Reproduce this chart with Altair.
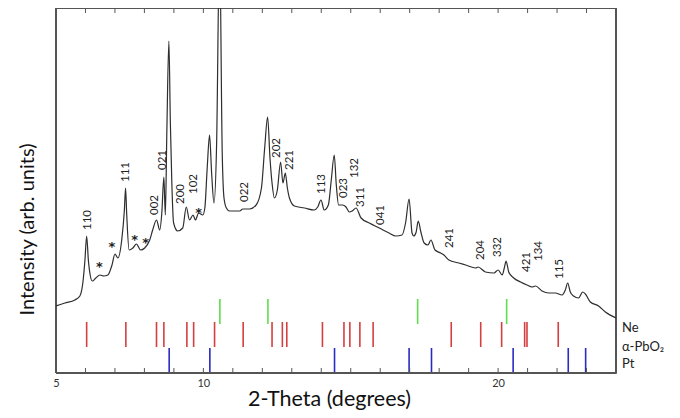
import altair as alt
import pandas as pd

# ---- measured pattern (2-theta in degrees, intensity in arb. units) ----
two_theta = [5.00, 5.30, 5.64, 5.81, 5.91, 5.98, 6.04, 6.10, 6.16, 6.23, 6.35, 6.49, 6.62, 6.76, 6.90,
             7.00, 7.10, 7.23, 7.32, 7.36, 7.40, 7.48, 7.61, 7.73, 7.87, 8.01, 8.18, 8.28, 8.41, 8.52,
             8.59, 8.66, 8.71, 8.76, 8.83, 8.88, 8.93, 8.99, 9.13, 9.30, 9.42, 9.53, 9.65, 9.73, 9.84,
             9.98, 10.05, 10.13, 10.21, 10.28, 10.36, 10.45, 10.55, 10.64, 10.70, 10.78, 10.89, 11.23,
             11.34, 11.57, 11.79, 11.97, 12.08, 12.18, 12.26, 12.33, 12.41, 12.51, 12.62, 12.70, 12.78,
             12.85, 12.92, 13.09, 13.43, 13.76, 13.88, 13.99, 14.10, 14.24, 14.34, 14.44, 14.51, 14.59,
             14.72, 14.84, 14.95, 15.05, 15.18, 15.35, 15.63, 15.97, 16.30, 16.53, 16.74, 16.86, 16.98,
             17.08, 17.14, 17.22, 17.29, 17.38, 17.49, 17.62, 17.72, 17.86, 18.05, 18.16, 18.33, 18.67,
             18.90, 19.24, 19.32, 19.57, 19.86, 20.00, 20.14, 20.21, 20.27, 20.36, 20.53, 20.76, 20.98,
             21.15, 21.27, 21.49, 21.72, 21.94, 22.17, 22.28, 22.36, 22.45, 22.56, 22.73, 22.87, 22.96,
             23.13, 23.41, 23.64, 24.00]
intensity = [67, 70, 73, 77, 90, 112, 137, 112, 98, 92, 95, 98, 97, 98, 108,
             119, 115, 133, 163, 185, 158, 123, 125, 129, 123, 125, 133, 143, 153, 143,
             160, 196, 158, 240, 332, 250, 190, 150, 142, 145, 166, 153, 158, 153, 160,
             158, 165, 205, 238, 200, 170, 230, 430, 220, 175, 165, 162, 162,
             164, 164, 168, 185, 225, 256, 215, 190, 175, 183, 211, 190, 200,
             185, 175, 167, 165, 163, 166, 173, 163, 168, 193, 218, 188, 168,
             168, 166, 161, 162, 165, 155, 150, 145, 140, 137, 138, 150, 174,
             140, 137, 141, 152, 141, 130, 128, 133, 123, 120, 118, 113, 110,
             108, 105, 106, 101, 100, 103, 98, 105, 112, 101, 95, 91, 88,
             86, 87, 82, 80, 80, 78, 83, 90, 81, 77, 75, 81, 79,
             71, 67, 61, 55]

# ---- hkl labels of alpha-PbO2 ----
hkl_text = ["110", "111", "002", "021", "200", "102", "022", "202", "221", "113",
            "023", "132", "311", "041", "241", "204", "332", "421", "134", "115"]
hkl_tt = [6.07, 7.39, 8.35, 8.63, 9.25, 9.68, 11.40, 12.51, 12.95, 14.04,
          14.76, 15.16, 15.35, 16.02, 18.37, 19.43, 20.00, 20.98, 21.38, 22.11]
hkl_I = [153, 201, 168, 213, 179, 189, 181, 225, 213, 189,
         185, 205, 176, 158, 135, 123, 126, 111, 122, 104]

# ---- unidentified peaks (*) ----
star_tt = [6.47, 6.90, 7.67, 8.04, 9.84]
star_I = [106, 126, 133, 130, 160]

# ---- reference stick positions ----
ne_tt = [10.56, 12.19, 17.27, 20.29]
pbo2_tt = [6.04, 7.37, 8.41, 8.66, 9.44, 9.67, 10.38, 11.35, 12.33, 12.68, 12.83, 14.04,
           14.77, 14.97, 15.31, 15.76, 18.41, 19.41, 20.12, 20.90, 20.98, 22.04]
pt_tt = [8.84, 10.22, 14.45, 16.98, 17.74, 20.51, 22.38, 22.97]

phase_names = ["Ne", "α-PbO₂", "Pt"]

tick_values = list(range(6, 24))

X_MIN, X_MAX = 5, 24
Y_MIN, Y_MAX = 0, 365

FONT = "Lato"
W, H = 560, 365
FRAME = "#555555"

x_scale = alt.Scale(domain=[X_MIN, X_MAX], nice=False, zero=False)
y_scale = alt.Scale(domain=[Y_MIN, Y_MAX], nice=False, zero=False)

curve_df = pd.DataFrame({"tt": two_theta, "I": intensity})

line = alt.Chart(curve_df).mark_line(
    color="#2e2e2e", strokeWidth=1.2, interpolate="monotone", clip=True
).encode(
    x=alt.X("tt:Q", scale=x_scale,
            axis=alt.Axis(title="2-Theta (degrees)", values=[5, 10, 15, 20],
                          labelExpr="datum.value == 15 ? '' : datum.label",
                          grid=False, domain=False, ticks=False, tickSize=0,
                          labelFont=FONT, labelFontSize=11, labelColor="#333333",
                          labelPadding=4, labelFlush=False,
                          titleFont=FONT, titleFontSize=21.5, titleFontWeight="normal",
                          titleColor="#111111", titleX=273, titleY=26,
                          titleAlign="center", titleBaseline="middle")),
    y=alt.Y("I:Q", scale=y_scale,
            axis=alt.Axis(title="Intensity (arb. units)", labels=False, ticks=False,
                          domain=False, grid=False,
                          titleFont=FONT, titleFontSize=20, titleFontWeight="normal",
                          titleColor="#111111", titleX=-29, titleY=221, titleAngle=270,
                          titleAlign="center", titleBaseline="middle")),
)

# plot frame: four edges, each drawn as a rule between domain extents
edge_df = pd.DataFrame({"tt": [X_MIN, X_MAX]})
frame_v = alt.Chart(edge_df).mark_rule(color=FRAME, strokeWidth=2).encode(
    x=alt.X("tt:Q", scale=x_scale), y=alt.value(0), y2=alt.value(H))
edge_h = pd.DataFrame({"I": [Y_MIN, Y_MAX]})
frame_h = alt.Chart(edge_h).mark_rule(color=FRAME, strokeWidth=2).encode(
    y=alt.Y("I:Q", scale=y_scale), x=alt.value(0), x2=alt.value(W))

ticks_df = pd.DataFrame({"tt": tick_values})
bottom_ticks = alt.Chart(ticks_df).mark_rule(color="#555555", strokeWidth=1).encode(
    x=alt.X("tt:Q", scale=x_scale), y=alt.value(H), y2=alt.value(H - 5))
top_ticks = alt.Chart(ticks_df).mark_rule(color="#555555", strokeWidth=1).encode(
    x=alt.X("tt:Q", scale=x_scale), y=alt.value(0), y2=alt.value(5))

def sticks(vals, color, y0, y1):
    return alt.Chart(pd.DataFrame({"tt": vals})).mark_rule(color=color, strokeWidth=1.6).encode(
        x=alt.X("tt:Q", scale=x_scale), y=alt.value(y0), y2=alt.value(y1))

ne_layer = sticks(ne_tt, "#5fdc4f", 291, 316)
pbo2_layer = sticks(pbo2_tt, "#d43f3f", 314, 339)
pt_layer = sticks(pt_tt, "#2a2ac4", 340, 365)

hkl_df = pd.DataFrame({"tt": hkl_tt, "I": hkl_I, "t": hkl_text})
hkl_layer = alt.Chart(hkl_df).mark_text(
    angle=270, font=FONT, fontSize=11.5, color="#222222", align="center", baseline="middle"
).encode(x=alt.X("tt:Q", scale=x_scale), y=alt.Y("I:Q", scale=y_scale), text="t:N")

star_df = pd.DataFrame({"tt": star_tt, "I": star_I})
star_layer = alt.Chart(star_df).mark_text(
    text="*", font="DejaVu Sans", fontSize=13, fontWeight="bold", color="#222222",
    align="center", baseline="middle"
).encode(x=alt.X("tt:Q", scale=x_scale), y=alt.Y("I:Q", scale=y_scale))

phase_layers = []
for name, ypos in zip(phase_names, [320, 339, 356]):
    phase_layers.append(
        alt.Chart(pd.DataFrame({"t": [name]})).mark_text(
            align="left", baseline="middle", font=FONT, fontSize=13, color="#222222"
        ).encode(x=alt.value(W + 6), y=alt.value(ypos), text="t:N")
    )

chart = alt.layer(
    ne_layer, pbo2_layer, pt_layer, bottom_ticks, top_ticks, frame_v, frame_h,
    line, hkl_layer, star_layer, *phase_layers
).properties(
    width=W, height=H,
    autosize=alt.AutoSizeParams(type="none"),
    padding={"left": 48, "top": 0, "right": 54, "bottom": 40},
).configure_view(stroke=FRAME, strokeWidth=1)

chart.save("out.html", embed_options={"renderer": "svg", "actions": False})
